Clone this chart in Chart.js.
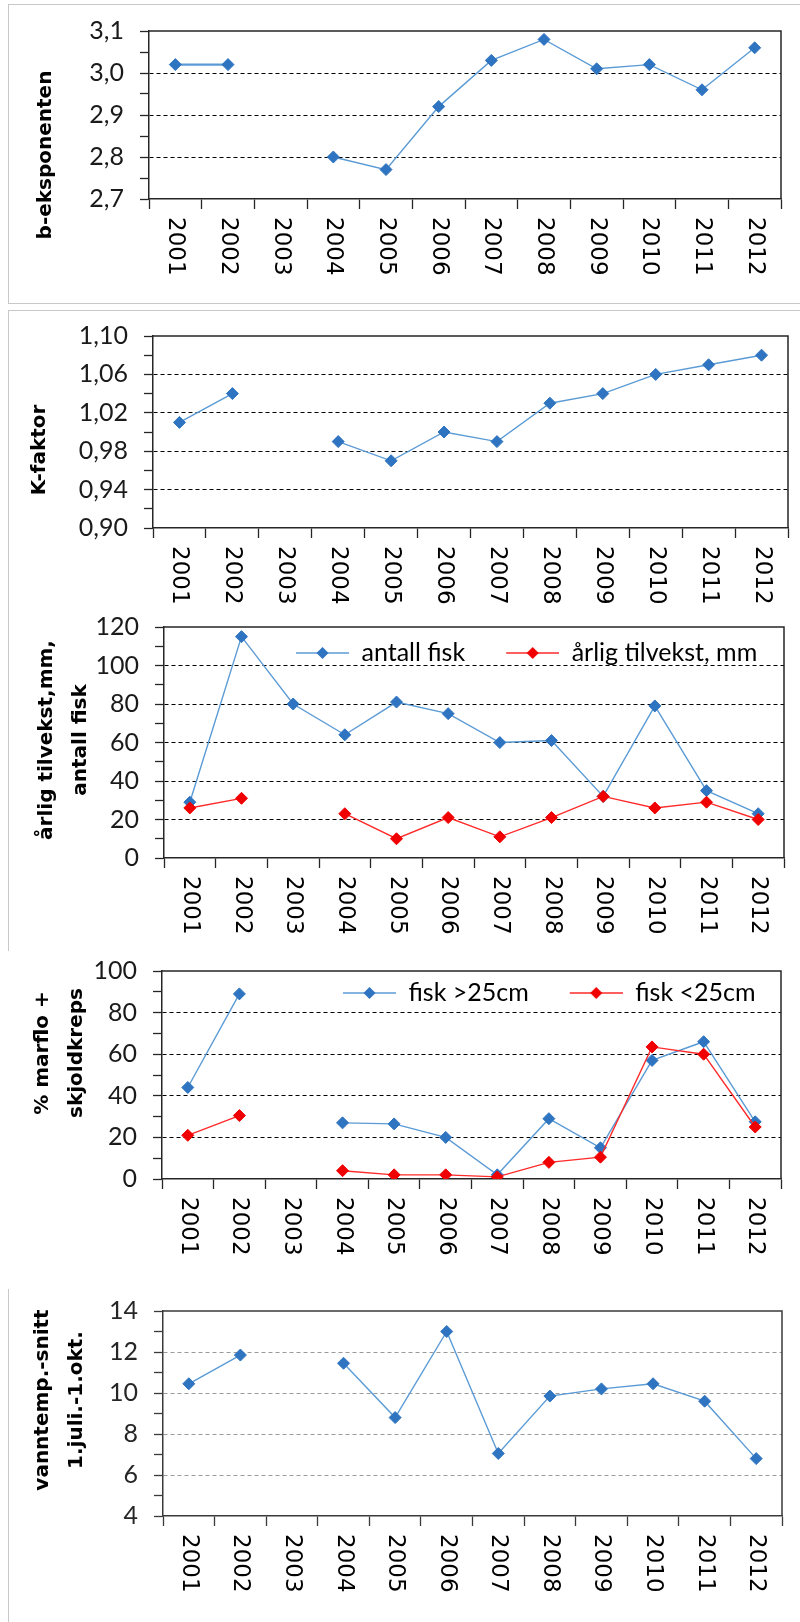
<!DOCTYPE html>
<html>
<head>
<meta charset="utf-8">
<script src="https://cdn.jsdelivr.net/npm/chart.js@4.4.1/dist/chart.umd.min.js"></script>
<style>
  body { margin: 0; background: #fff; }
  #page { position: relative; width: 800px; height: 1622px; overflow: hidden; }
  .box { position: absolute; border: 0 solid #c8c8c8; }
  canvas { position: absolute; left: 0; }
</style>
</head>
<body>
<div id="page">
  <div class="box" style="left:8px;top:4px;width:820px;height:298px;border-width:1px;"></div>
  <div class="box" style="left:8px;top:310px;width:820px;height:640px;border-top-width:1px;border-left-width:1px;"></div>
  <div class="box" style="left:8px;top:1289px;width:10px;height:340px;border-left-width:1px;"></div>
</div>
<script>
// data
const years = ['2001', '2002', '2003', '2004', '2005', '2006', '2007', '2008', '2009', '2010', '2011', '2012'];

const bExponent = [3.02, 3.02, null, 2.80, 2.77, 2.92, 3.03, 3.08, 3.01, 3.02, 2.96, 3.06];
const kFactor = [1.01, 1.04, null, 0.99, 0.97, 1.00, 0.99, 1.03, 1.04, 1.06, 1.07, 1.08];
const antallFisk = [29, 115, 80, 64, 81, 75, 60, 61, 32, 79, 35, 23];
const tilvekst = [26, 31, null, 23, 10, 21, 11, 21, 32, 26, 29, 20];
const fiskOver25 = [44, 89, null, 27, 26.5, 20, 2, 29, 15, 57, 66, 27.5];
const fiskUnder25 = [21, 30.5, null, 4, 2, 2, 1, 8, 10.5, 63.5, 60, 25];
const vanntemp = [10.45, 11.85, null, 11.45, 8.8, 13.0, 7.05, 9.85, 10.2, 10.45, 9.6, 6.8];

// y-axis major ticks
const bTicks = [2.7, 2.8, 2.9, 3.0, 3.1];
const kTicks = [0.90, 0.94, 0.98, 1.02, 1.06, 1.10];
const fiskTicks = [0, 20, 40, 60, 80, 100, 120];
const marfloTicks = [0, 20, 40, 60, 80, 100];
const tempTicks = [4, 6, 8, 10, 12, 14];

const BLUE_LINE = '#5b9bd5';
const BLUE_MARK = '#2f74c0';
const RED_LINE = '#ff2a2a';
const RED_MARK = '#f00000';

// top + right edge of the plot box
const frame = {
  id: 'frame',
  beforeDatasetsDraw(chart, args, o) {
    const {ctx, chartArea: c} = chart;
    ctx.save();
    ctx.strokeStyle = o.color;
    ctx.lineWidth = 1.5;
    ctx.beginPath();
    ctx.moveTo(c.left, c.top);
    ctx.lineTo(c.right, c.top);
    ctx.lineTo(c.right, c.bottom);
    ctx.stroke();
    ctx.restore();
  }
};

// rotated axis title, placed like in the original (not centered on the plot)
const yTitle = {
  id: 'yTitle',
  afterDraw(chart, args, o) {
    const ctx = chart.ctx;
    ctx.save();
    ctx.font = 'bold 20px "DejaVu Sans"';
    ctx.fillStyle = '#000';
    ctx.textAlign = 'center';
    ctx.textBaseline = 'middle';
    ctx.translate(o.x, o.y);
    ctx.rotate(-Math.PI / 2);
    o.lines.forEach((t, i) => ctx.fillText(t, 0, (i - (o.lines.length - 1) / 2) * o.lineHeight));
    ctx.restore();
  }
};

// moves the legend inside the plot area
const legendSpot = {
  id: 'legendSpot',
  beforeDraw(chart, args, o) {
    const l = chart.legend;
    if (!l || o.x === undefined) return;
    const pad = l.options.labels.padding;
    l.left = o.x - pad;
    l.right = 800;
    l.top = o.y - pad - o.fontSize / 2;
    l.bottom = l.top + 60;
  }
};

function legendIcon(line, mark) {
  const c = document.createElement('canvas');
  c.width = 84;
  c.height = 16;
  const g = c.getContext('2d');
  g.strokeStyle = line;
  g.lineWidth = 1.5;
  g.beginPath();
  g.moveTo(31, 8);
  g.lineTo(84, 8);
  g.stroke();
  g.fillStyle = mark;
  g.beginPath();
  g.moveTo(57.5, 2);
  g.lineTo(63.5, 8);
  g.lineTo(57.5, 14);
  g.lineTo(51.5, 8);
  g.closePath();
  g.fill();
  return c;
}

function series(label, data, line, mark, extra) {
  return Object.assign({
    label: label,
    data: data,
    borderColor: line,
    backgroundColor: mark,
    pointBackgroundColor: mark,
    pointBorderColor: mark,
    pointStyle: 'rectRot',
    pointRadius: 6,
    pointHoverRadius: 6,
    pointBorderWidth: 1,
    borderWidth: 1.4,
    tension: 0,
    spanGaps: false,
    fill: false
  }, extra || {});
}

function drawPanel(p) {
  const cv = document.createElement('canvas');
  cv.width = 800;
  cv.height = p.height;
  cv.style.top = p.top + 'px';
  document.getElementById('page').appendChild(cv);

  const major = p.yTicks;
  const lo = major[0];
  const hi = major[major.length - 1];
  const all = [];
  major.forEach((v, i) => {
    all.push(v);
    if (i < major.length - 1) all.push((v + major[i + 1]) / 2);
  });
  const hasLegend = !!p.legend;
  const icons = p.datasets.map(d => legendIcon(d.borderColor, d.pointBackgroundColor));

  new Chart(cv, {
    type: 'line',
    data: { labels: years, datasets: p.datasets },
    options: {
      responsive: false,
      animation: false,
      devicePixelRatio: 1,
      layout: {
        padding: { left: 0, top: p.area.t - p.top - (hasLegend ? 1 : 0), right: 800 - p.area.r, bottom: 0 }
      },
      scales: {
        x: {
          offset: true,
          grid: { offset: true, drawOnChartArea: false, tickLength: 10, tickColor: p.axisColor, tickWidth: 1.3 },
          border: { color: p.axisColor, width: 1.5 },
          ticks: {
            autoSkip: false,
            padding: 8,
            color: '#000',
            font: { family: 'DejaVu Sans', size: 23 }
          },
          // labels read top-to-bottom like the original
          afterCalculateLabelRotation: s => {
            s.labelRotation = -90;
            s._getXAxisLabelAlignment = () => 'left';
          },
          afterFit: s => { s.height = p.height - (p.area.b - p.top); }
        },
        y: {
          min: lo,
          max: hi,
          afterBuildTicks: s => { s.ticks = all.map(v => ({ value: v })); },
          afterFit: s => { s.width = p.area.l; },
          ticks: {
            autoSkip: false,
            padding: 16,
            color: p.labelColor,
            font: { family: 'Lato', size: 25 },
            callback: v => major.includes(v) ? v.toFixed(p.decimals).replace('.', ',') : ''
          },
          grid: {
            color: ctx => {
              const v = ctx.tick ? ctx.tick.value : null;
              return (major.includes(v) && v !== lo && v !== hi) ? p.gridColor : 'rgba(0,0,0,0)';
            },
            tickColor: p.axisColor,
            tickLength: 9,
            tickWidth: 1.3
          },
          border: { color: p.axisColor, width: 1.5, dash: [4, 3] }
        }
      },
      plugins: {
        legend: hasLegend ? {
          display: true,
          position: 'top',
          align: 'start',
          maxHeight: 1,
          labels: {
            usePointStyle: true,
            pointStyleWidth: 84,
            padding: 10,
            color: '#000',
            font: { family: 'Lato', size: 25 },
            sort: (a, b) => a.datasetIndex - b.datasetIndex,
            generateLabels: chart => {
              const items = Chart.defaults.plugins.legend.labels.generateLabels(chart);
              items.forEach(it => { it.pointStyle = icons[it.datasetIndex]; });
              return items;
            }
          }
        } : { display: false },
        tooltip: { enabled: false },
        frame: { color: p.axisColor },
        yTitle: { lines: p.title, x: p.titleX, y: p.titleY - p.top, lineHeight: 34 },
        legendSpot: hasLegend ? { x: p.legend.x, y: p.legend.y - p.top, fontSize: 25 } : {}
      }
    },
    plugins: [frame, yTitle, legendSpot]
  });
}

drawPanel({
  top: 0, height: 300,
  area: { l: 149, r: 781, t: 22, b: 199 },
  yTicks: bTicks, decimals: 1,
  datasets: [series('b-eksponenten', bExponent, BLUE_LINE, BLUE_MARK, {
    segment: { borderWidth: ctx => ctx.p0DataIndex === 0 ? 2.4 : 1.4 }
  })],
  title: ['b-eksponenten'], titleX: 46, titleY: 155,
  gridColor: '#000', axisColor: '#262626', labelColor: '#1a1a1a'
});

drawPanel({
  top: 305, height: 310,
  area: { l: 153, r: 788, t: 329, b: 528 },
  yTicks: kTicks, decimals: 2,
  datasets: [series('K-faktor', kFactor, BLUE_LINE, BLUE_MARK)],
  title: ['K-faktor'], titleX: 40, titleY: 450,
  gridColor: '#000', axisColor: '#262626', labelColor: '#1a1a1a'
});

drawPanel({
  top: 590, height: 360,
  area: { l: 164, r: 784, t: 627, b: 858 },
  yTicks: fiskTicks, decimals: 0,
  datasets: [
    series('antall fisk', antallFisk, BLUE_LINE, BLUE_MARK, { order: 2 }),
    series('årlig tilvekst, mm', tilvekst, RED_LINE, RED_MARK, { order: 1 })
  ],
  legend: { x: 265, y: 653 },
  title: ['årlig tilvekst,mm,', 'antall fisk'], titleX: 64, titleY: 740,
  gridColor: '#000', axisColor: '#262626', labelColor: '#1a1a1a'
});

drawPanel({
  top: 940, height: 340,
  area: { l: 162, r: 781, t: 967, b: 1179 },
  yTicks: marfloTicks, decimals: 0,
  datasets: [
    series('fisk >25cm', fiskOver25, BLUE_LINE, BLUE_MARK, { order: 2 }),
    series('fisk <25cm', fiskUnder25, RED_LINE, RED_MARK, { order: 1 })
  ],
  legend: { x: 312, y: 993 },
  title: ['% marflo +', 'skjoldkreps'], titleX: 60, titleY: 1053,
  gridColor: '#000', axisColor: '#262626', labelColor: '#1a1a1a'
});

drawPanel({
  top: 1280, height: 342,
  area: { l: 163, r: 782, t: 1302, b: 1516 },
  yTicks: tempTicks, decimals: 0,
  datasets: [series('vanntemp', vanntemp, BLUE_LINE, BLUE_MARK)],
  title: ['vanntemp.-snitt', '1.juli.-1.okt.'], titleX: 60, titleY: 1400,
  gridColor: '#9a9a9a', axisColor: '#3a3a3a', labelColor: '#262626'
});
</script>
</body>
</html>
